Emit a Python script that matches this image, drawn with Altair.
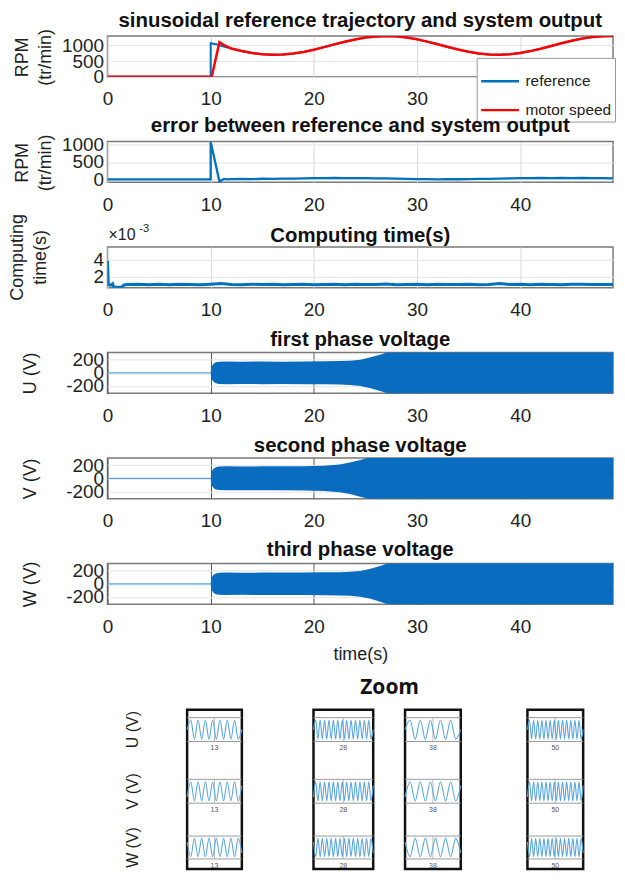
import altair as alt
import pandas as pd

FONT = "Liberation Sans"
BLUE = "#0072BD"
RED = "#FF0000"
BAND = "#0a6cbf"
LIGHT = "#5aa6dc"
TXT = "#222222"

# ---------------- data ----------------
x_ticks = [0, 10, 20, 30, 40]

ref_t = [0, 10, 10, 10.5, 11, 12, 13, 14, 15, 16, 17, 18, 19, 20, 21, 22, 23, 24, 25, 26,
         27, 28, 29, 30, 31, 32, 33, 34, 35, 36, 37, 38, 39, 40, 41, 42, 43, 44, 45, 46, 47, 48, 49, 50]
ref_v = [0, 0, 1070, 1040, 990, 897, 821, 759, 718, 701, 708, 740, 794, 866, 948, 1035, 1119, 1193, 1251, 1287,
         1300, 1287, 1251, 1193, 1119, 1035, 948, 866, 794, 740, 708, 701, 718, 759, 821, 897, 983, 1069, 1150, 1218,
         1268, 1295, 1298, 1290]

motor_t = [0, 10.1, 10.85, 11.3, 12, 13, 14, 15, 16, 17, 18, 19, 20, 21, 22, 23, 24, 25, 26, 27,
           28, 29, 30, 31, 32, 33, 34, 35, 36, 37, 38, 39, 40, 41, 42, 43, 44, 45, 46, 47, 48, 49, 50]
motor_v = [0, 0, 1100, 1010, 900, 823, 761, 719, 702, 708, 739, 793, 864, 946, 1033, 1117, 1191, 1250, 1286, 1299,
           1288, 1253, 1195, 1121, 1037, 950, 868, 796, 741, 709, 701, 717, 757, 819, 895, 981, 1067, 1148, 1216, 1267,
           1294, 1298, 1291]

err_t = [0, 10, 10, 10.85, 11.3, 11.6, 12, 13, 14, 15, 16, 17, 18, 19, 20, 21, 22, 23, 24, 25, 26, 27,
         28, 29, 30, 31, 32, 33, 34, 35, 36, 37, 38, 39, 40, 41, 42, 43, 44, 45, 46, 47, 48, 49, 50]
err_v = [0, 0, 1070, -60, 15, 5, 12, 18, 10, 20, 15, 22, 25, 30, 38, 35, 42, 38, 40, 35, 32, 28,
         25, 18, 8, 12, 5, 10, 6, 12, 15, 18, 22, 28, 35, 38, 42, 40, 45, 40, 42, 38, 35, 30, 28]

ct_t = [0, 0.08, 0.3, 0.5, 0.6, 1.0, 1.4, 1.6, 2, 3, 4, 5, 6, 7, 8, 9, 10, 11, 12, 13, 14, 15, 16, 17, 18,
        19, 20, 21, 22, 23, 24, 25, 26, 27, 28, 29, 30, 31, 32, 33, 34, 35, 36, 37, 38, 39, 40, 41, 42,
        43, 44, 45, 46, 47, 48, 49, 50]
ct_v = [3.9, 1.0, 0.9, 1.1, 0.7, 0.65, 0.7, 0.95, 1.0, 1.02, 0.98, 1.03, 0.97, 1.02, 1.0, 0.98, 1.04, 1.12,
        1.0, 0.97, 1.03, 0.99, 1.02, 0.98, 1.01, 1.03, 0.98, 1.0, 1.04, 0.97, 1.02, 0.99, 1.01, 1.05, 0.98,
        1.0, 1.02, 0.97, 1.03, 0.99, 1.01, 1.04, 0.98, 1.0, 1.12, 0.99, 1.02, 0.98, 1.03, 1.0, 0.97, 1.02,
        1.04, 0.99, 1.01, 1.0, 1.02]

pre_t = [0, 10]
pre_v = [0, 0]
v_t = [10, 10.05, 10.15, 10.3, 10.5, 10.8, 11.5, 13, 15, 17, 19, 21, 22.5, 23.5, 24.5, 25.5, 26.5, 27.5,
       30, 35, 40, 45, 50]
u_hi = [0, 70, 110, 140, 160, 168, 172, 170, 172, 170, 173, 175, 178, 185, 200, 235, 280, 330, 330, 330, 330, 330, 330]
u_lo = [0, -70, -110, -140, -160, -168, -172, -170, -172, -170, -173, -175, -178, -185, -200, -235, -280, -330, -330, -330, -330, -330, -330]
v_hi = [0, 80, 120, 150, 170, 178, 182, 180, 182, 183, 185, 192, 210, 240, 280, 320, 330, 330, 330, 330, 330, 330, 330]
v_lo = [0, -80, -120, -150, -170, -178, -182, -180, -182, -183, -185, -192, -210, -240, -280, -320, -330, -330, -330, -330, -330, -330, -330]
w_hi = [0, 70, 110, 140, 158, 166, 170, 168, 170, 170, 172, 174, 176, 182, 196, 228, 275, 330, 330, 330, 330, 330, 330]
w_lo = [0, -70, -110, -140, -158, -166, -170, -168, -170, -170, -172, -174, -176, -182, -196, -228, -275, -330, -330, -330, -330, -330, -330]

zoom_labels = ["13", "28", "38", "50"]
row_titles = ["U (V)", "V (V)", "W (V)"]
z13 = [
    [0, 1, -1, 1, -1, 1, -1, 1, -1, 1, -1, 1, -1, 1, -1, 0],
    [-0.6, 1, -1, 1, -1, 1, -1, 1, -1, 1, -1, 1, -1, 1, -1, 0.6],
    [0.6, -1, 1, -1, 1, -1, 1, -1, 1, -1, 1, -1, 1, -1, 1, -0.6],
]
z28 = [
    [0, 1, -1, 1, -1, 1, -1, 1, -1, 1, -1, 1, -1, 1, -1, 1, -1, 1, -1, 1, -1, 1, -1, 1, -1, 1, -1, 0],
    [-0.6, 1, -1, 1, -1, 1, -1, 1, -1, 1, -1, 1, -1, 1, -1, 1, -1, 1, -1, 1, -1, 1, -1, 1, -1, 1, -1, 0.6],
    [0.6, -1, 1, -1, 1, -1, 1, -1, 1, -1, 1, -1, 1, -1, 1, -1, 1, -1, 1, -1, 1, -1, 1, -1, 1, -1, 1, -0.6],
]
z38 = [
    [0, 1, -1, 1, -1, 1, -1, 1, -1, 1, -1, 0],
    [-0.6, 1, -1, 1, -1, 1, -1, 1, -1, 1, -1, 0.6],
    [0.6, -1, 1, -1, 1, -1, 1, -1, 1, -1, 1, -0.6],
]
z50 = [
    [0, 1, -1, 1, -1, 1, -1, 1, -1, 1, -1, 1, -1, 1, -1, 1, -1, 1, -1, 1, -1, 1, -1, 1, -1, 1, -1, 0],
    [-0.6, 1, -1, 1, -1, 1, -1, 1, -1, 1, -1, 1, -1, 1, -1, 1, -1, 1, -1, 1, -1, 1, -1, 1, -1, 1, -1, 0.6],
    [0.6, -1, 1, -1, 1, -1, 1, -1, 1, -1, 1, -1, 1, -1, 1, -1, 1, -1, 1, -1, 1, -1, 1, -1, 1, -1, 1, -0.6],
]

# ---------------- helpers ----------------
W, H = 508, 41
XSC = alt.Scale(domain=[0, 49], nice=False, zero=False)
LBL = "'' + datum.value"


def xenc(grid_color, title=None):
    ax = dict(values=x_ticks, labelFont=FONT, labelFontSize=19, labelColor=TXT, labelPadding=13,
              labelFlush=False, labelExpr=LBL, ticks=False, domain=False, grid=True,
              gridColor=grid_color, gridWidth=1)
    if title:
        ax.update(title=title, titleFont=FONT, titleFontSize=18, titleFontWeight="normal",
                  titlePadding=10, titleColor=TXT)
    else:
        ax["title"] = None
    return alt.X("t:Q", scale=XSC, axis=alt.Axis(**ax))


def yaxis(values, title, tx, ty, grid_color="#e3e3e3"):
    return alt.Axis(values=values, labelFont=FONT, labelFontSize=19, labelColor=TXT, labelPadding=4,
                    labelOverlap=False, labelFlush=False, labelExpr=LBL, ticks=False, domain=False,
                    grid=True, gridColor=grid_color, title=title, titleFont=FONT, titleFontSize=18,
                    titleFontWeight="normal", titleColor=TXT, titleAngle=270, titleX=tx, titleY=ty,
                    titleAlign="center", titleBaseline="middle", titleLineHeight=23)


def ttl(text, offset):
    return alt.TitleParams(text, font=FONT, fontSize=20.5, fontWeight="bold", color="#111",
                           offset=offset, anchor="middle")


# ---------------- panel 1 ----------------
y1 = alt.Y("v:Q", scale=alt.Scale(domain=[0, 1300], nice=False, zero=False),
           axis=yaxis([0, 500, 1000], ["RPM", "(tr/min)"], -85, 21))
col1 = alt.Color("series:N", scale=alt.Scale(domain=["reference", "motor speed"], range=[BLUE, RED]),
                 legend=alt.Legend(orient="none", legendX=371, legendY=22, title=None, symbolType="stroke",
                                   symbolSize=1444, symbolStrokeWidth=2.5, labelFont=FONT, labelFontSize=15.5,
                                   labelColor=TXT, labelOffset=5, fillColor="white", strokeColor="#999",
                                   padding=3, rowPadding=-6))
df_ref = pd.DataFrame({"t": ref_t, "v": ref_v, "series": "reference", "o": list(range(len(ref_t)))})
df_mot = pd.DataFrame({"t": motor_t, "v": motor_v, "series": "motor speed", "o": list(range(len(motor_t)))})
p1 = alt.layer(
    alt.Chart(df_ref).mark_line(strokeWidth=2, clip=True).encode(x=xenc("#d8d8d8"), y=y1, color=col1, order="o:Q"),
    alt.Chart(df_mot).mark_line(strokeWidth=2.5, clip=True).encode(x=xenc("#d8d8d8"), y=y1, color=col1, order="o:Q"),
).properties(width=W, height=H, title=ttl("sinusoidal reference trajectory and system output", -3))

# ---------------- panel 2 ----------------
df_err = pd.DataFrame({"t": err_t, "v": err_v, "o": list(range(len(err_t)))})
p2 = alt.Chart(df_err).mark_line(color=BLUE, strokeWidth=2.3, clip=True).encode(
    x=xenc("#d8d8d8"),
    y=alt.Y("v:Q", scale=alt.Scale(domain=[-80, 1080], nice=False, zero=False),
            axis=yaxis([0, 500, 1000], ["RPM", "(tr/min)"], -85, 21)),
    order="o:Q",
).properties(width=W, height=H, title=ttl("error between reference and system output", -2))

# ---------------- panel 3 ----------------
df_ct = pd.DataFrame({"t": ct_t, "v": ct_v, "o": list(range(len(ct_t)))})
y3 = alt.Y("v:Q", scale=alt.Scale(domain=[0.6, 5.6], nice=False, zero=False),
           axis=yaxis([2, 4], ["Computing", "time(s)"], -90, 10))
ann = pd.DataFrame({"a": [0]})
p3 = alt.layer(
    alt.Chart(df_ct).mark_line(color=BLUE, strokeWidth=3, clip=True).encode(x=xenc("#d8d8d8"), y=y3, order="o:Q"),
    alt.Chart(ann).mark_text(text="×10", font=FONT, fontSize=16, align="left", baseline="alphabetic",
                             color=TXT).encode(x=alt.value(1), y=alt.value(-7)),
    alt.Chart(ann).mark_text(text="-3", font=FONT, fontSize=11, align="left", baseline="alphabetic",
                             color=TXT).encode(x=alt.value(32), y=alt.value(-15)),
).properties(width=W, height=H, title=ttl("Computing time(s)", -33))


# ---------------- panels 4-6 ----------------
def vpanel(hi, lo, label, title, offset, xtitle=None):
    ysc = alt.Scale(domain=[-310, 310], nice=False, zero=False)
    yax = yaxis([-200, 0, 200], label, -77, 20.5)
    df_pre = pd.DataFrame({"t": pre_t, "v": pre_v})
    df_b = pd.DataFrame({"t": v_t, "hi": hi, "lo": lo})
    pre = alt.Chart(df_pre).mark_line(color=LIGHT, strokeWidth=1.2).encode(
        x=xenc("#555555", xtitle), y=alt.Y("v:Q", scale=ysc, axis=yax))
    band = alt.Chart(df_b).mark_area(color=BAND, opacity=1, clip=True).encode(
        x=xenc("#555555", xtitle), y=alt.Y("hi:Q", scale=ysc, axis=yax), y2="lo:Q")
    return alt.layer(pre, band).properties(width=W, height=H, title=ttl(title, offset))


p4 = vpanel(u_hi, u_lo, "U (V)", "first phase voltage", 0.3)
p5 = vpanel(v_hi, v_lo, "V (V)", "second phase voltage", -0.7)
p6 = vpanel(w_hi, w_lo, "W (V)", "third phase voltage", 0.3, xtitle="time(s)")

# ---------------- zoom section ----------------
ZH = 160
BANDS = [(8, 32), (70, 94), (127, 150)]


def row_layer(vals, lab, band, first_col, row_title):
    n = len(vals)
    top, bot = band
    c = (top + bot) / 2
    k = (bot - top) / 2 / 1.25
    hi = c / k
    lo = hi - ZH / k
    ysc = alt.Scale(domain=[lo, hi], nice=False, zero=False)
    xsc = alt.Scale(domain=[0, n - 1], nice=False, zero=False)
    df = pd.DataFrame({"i": list(range(n)), "v": vals})
    mid = (n - 1) / 2
    wave = alt.Chart(df).mark_line(color=LIGHT, strokeWidth=1.1, interpolate="monotone").encode(
        x=alt.X("i:Q", scale=xsc, axis=None), y=alt.Y("v:Q", scale=ysc, axis=None))
    edges = alt.Chart(pd.DataFrame({"y": [1.25, -1.25]})).mark_rule(color="#9a9a9a", strokeWidth=1).encode(
        y=alt.Y("y:Q", scale=ysc, axis=None))
    center = alt.Chart(pd.DataFrame({"x": [mid], "y": [-1.25], "y2": [1.25]})).mark_rule(
        color="#bdbdbd", strokeWidth=1).encode(
        x=alt.X("x:Q", scale=xsc, axis=None), y=alt.Y("y:Q", scale=ysc, axis=None), y2="y2:Q")
    text = alt.Chart(pd.DataFrame({"x": [mid], "y": [-1.25], "lab": [lab]})).mark_text(
        fontSize=7, color="#555555", dy=7, font=FONT).encode(
        x=alt.X("x:Q", scale=xsc, axis=None), y=alt.Y("y:Q", scale=ysc, axis=None), text="lab:N")
    layers = [center, edges, wave, text]
    if first_col:
        rt = alt.Chart(pd.DataFrame({"y": [0], "lab": [row_title]})).mark_text(
            font=FONT, fontSize=16, color=TXT, angle=270, align="center", baseline="middle").encode(
            x=alt.value(-54), y=alt.Y("y:Q", scale=ysc, axis=None), text="lab:N")
        layers.append(rt)
    return alt.layer(*layers)


def zcol(series, lab, width, first_col=False):
    rows = [row_layer(series[r], lab, BANDS[r], first_col, row_titles[r]) for r in range(3)]
    return alt.layer(*rows).resolve_scale(y="independent").properties(
        width=width, height=ZH, view=alt.ViewBackground(stroke="#111111", strokeWidth=2.5))


def spacer(w):
    return alt.Chart(pd.DataFrame({"a": [0]})).mark_point(opacity=0).encode(
        x=alt.X("a:Q", axis=None), y=alt.Y("a:Q", axis=None)).properties(
        width=w, height=ZH, view=alt.ViewBackground(strokeOpacity=0))


zoom = alt.hconcat(
    spacer(80), zcol(z13, zoom_labels[0], 55, True), spacer(72), zcol(z28, zoom_labels[1], 60),
    spacer(32), zcol(z38, zoom_labels[2], 56), spacer(67), zcol(z50, zoom_labels[3], 56),
    spacing=0, bounds="flush",
).properties(title=alt.TitleParams("Zoom", font="Noto Sans", fontSize=21, fontWeight="bold",
                                   color="#111", anchor="start", dx=254, offset=10))

main = alt.vconcat(p1, p2, p3, p4, p5, p6, spacing=65, bounds="flush").resolve_scale(
    color="independent").resolve_legend(color="independent")
chart = alt.vconcat(main, zoom, spacing=12).properties(padding=0).configure_view(
    stroke="#7a7a7a", strokeWidth=1.5)

chart.save("out.html", embed_options={"renderer": "svg", "actions": False})
